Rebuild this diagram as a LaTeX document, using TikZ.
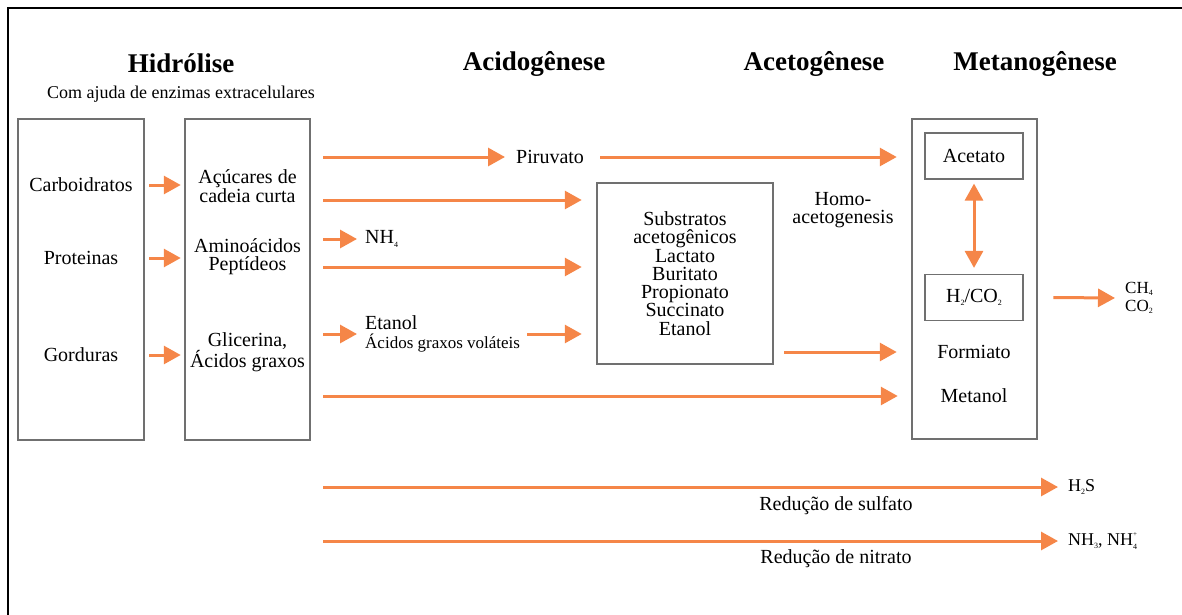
\documentclass[tikz,border=0pt]{standalone}
\usepackage{fontspec}
\setmainfont{Liberation Serif}
\usetikzlibrary{arrows.meta}
\usetikzlibrary{positioning}
\definecolor{flowcolor}{RGB}{245,134,72}
\definecolor{boxgray}{RGB}{112,112,112}
\newcommand{\diagfont}{\fontsize{20}{18.3}\selectfont}
\newcommand{\chemsub}[1]{\raisebox{-0.35ex}{\fontsize{8}{8}\selectfont #1}}
\newcommand{\chemion}[2]{\rlap{\raisebox{1.15ex}{\fontsize{7}{7}\selectfont #1}}\raisebox{-0.45ex}{\fontsize{8}{8}\selectfont #2}}
\tikzset{
    stage/.style={
           rectangle,
           draw=boxgray, line width=2.5pt,
           inner sep=0pt,
           align=center,
           font=\diagfont,
           },
    inner/.style={
           rectangle,
           draw=boxgray, line width=1.2pt,
           minimum width=98pt,
           minimum height=46pt,
           inner sep=0pt,
           font=\diagfont,
           },
    phase/.style={font=\fontsize{27}{27}\selectfont\bfseries, inner sep=0pt},
    txt/.style={align=center, inner sep=0pt, font=\diagfont},
    flow/.style={->, >={Triangle[length=17pt,width=18pt]}, draw=flowcolor, line width=3pt},
}

\begin{document}
\begin{tikzpicture}[x=1pt,y=-1pt]
 \useasboundingbox (0,0) rectangle (1182,615);
 \draw[line width=2pt] (8,615) -- (8,8) -- (1182,8);

 % phase titles
 \node[phase] (Hydrolysis) at (181,63) {Hidrólise};
 \node[txt, font=\fontsize{18}{18}\selectfont] (SubHydrolysis) at (181,94)
 {Com ajuda de enzimas extracelulares};
 \node[phase] (Acidogenesis) at (534,64) {Acidogênese};
 \node[phase,
  right of=Acidogenesis,
  node distance=280pt,
  anchor=center] (Acetogenesis)
 {Acetogênese};
 \node[phase,
  right of=Acetogenesis,
  node distance=221pt,
  anchor=center] (Methanogenesis)
 {Metanogênese};

 % hydrolysis boxes
 \node[stage, minimum width=126pt, minimum height=321pt] (Polymers) at (81,279.5) {};
 \node[stage, minimum width=125pt, minimum height=321pt] (Monomers) at (247.5,279.5) {};
 \node[txt] (Carb) at (81,185) {Carboidratos};
 \node[txt] (Prot) at (81,258) {Proteinas};
 \node[txt] (Fat) at (81,355) {Gorduras};
 \node[txt] (Sugar) at (247.5,186) {Açúcares de\\cadeia curta};
 \node[txt] (Amino) at (247.5,256.5) {Aminoácidos\\Peptídeos};
 \node[txt] (Glyc) at (247.5,352.5) {Glicerina,\\Ácidos graxos};
 \coordinate (out) at ([xshift=12pt]Monomers.east);

 % acidogenesis products
 \node[txt, anchor=west] (Pyruvate) at (516,157) {Piruvato};
 \node[txt, anchor=west] (Ammonium) at (365,239) {NH\chemsub{4}};
 \node[txt, anchor=west, align=left, font=\fontsize{20}{19}\selectfont] (Ethanol) at (365,334)
 {Etanol\\{\fontsize{17}{19}\selectfont Ácidos graxos voláteis}};

 % STAGE acetogenesis
 \node[stage, minimum width=176pt, minimum height=181pt] (Substrates) at (685,273.5)
 {Substratos\\acetogênicos\\Lactato\\Buritato\\Propionato\\Succinato\\Etanol};
 \node[txt] (Homo) at (843,210) {Homo-\\acetogenesis};

 % STAGE methanogenesis
 \node[stage, minimum width=125pt, minimum height=320pt] (Methano) at (974.5,279) {};
 \node[inner] (Acetate) at (974,156) {Acetato};
 \node[inner] (Hydrogen) at (974,297.5) {H\chemsub{2}/CO\chemsub{2}};
 \node[txt] (Formate) at (974,352) {Formiato};
 \node[txt] (Methanol) at (974,396) {Metanol};
 \node[txt, anchor=west, align=left, font=\fontsize{17}{18}\selectfont] (Biogas) at (1125,298)
 {CH\chemsub{4}\\CO\chemsub{2}};

 % reductions
 \node[txt, anchor=west, font=\fontsize{18}{18}\selectfont] (Sulfide) at (1068,487) {H\chemsub{2}S};
 \node[txt, anchor=west, font=\fontsize{18}{18}\selectfont] (Ammonia) at (1068,541)
 {NH\chemsub{3}, NH\chemion{+}{4}};
 \node[txt] (Sulfate) at (836,506) {Redução de sulfato};
 \node[txt] (Nitrate) at (836,559) {Redução de nitrato};

 % draw the flows between the stages
 \draw[flow] ([xshift=4pt]Polymers.east |- Carb) -- ([xshift=-3pt]Monomers.west |- Carb);
 \draw[flow] ([xshift=4pt]Polymers.east |- Prot) -- ([xshift=-3pt]Monomers.west |- Prot);
 \draw[flow] ([xshift=4pt]Polymers.east |- Fat) -- ([xshift=-3pt]Monomers.west |- Fat);

 \draw[flow] (out |- Pyruvate) -- ([xshift=-11pt]Pyruvate.west);
 \draw[flow] ([xshift=16pt]Pyruvate.east) -- ([xshift=-14pt]Methano.west |- Pyruvate);
 \draw[flow] (out |- 0,200) -- ([xshift=-14pt]Substrates.west |- 0,200);
 \draw[flow] (out |- 0,239) -- ([xshift=-8pt]Ammonium.west |- 0,239);
 \draw[flow] (out |- 0,267) -- ([xshift=-14pt]Substrates.west |- 0,267);
 \draw[flow] (out |- Ethanol.west) -- ([xshift=-8pt]Ethanol.west);
 \draw[flow] ([xshift=7pt]Ethanol.east) -- ([xshift=-14pt]Substrates.west |- Ethanol.east);
 \draw[flow] (out |- Methanol) -- ([xshift=-13pt]Methano.west |- Methanol);
 \draw[flow] ([xshift=10pt]Substrates.east |- Formate) -- ([xshift=-14pt]Methano.west |- Formate);
 \draw[flow, <->, shorten <=4pt, shorten >=6pt] (Acetate.south) -- (Hydrogen.north);
 \draw[flow] ([xshift=15pt]Methano.east |- Hydrogen) -- ([xshift=-10pt]Biogas.west);

 \draw[flow] (out |- 0,487) -- ([xshift=-10pt]Sulfide.west |- 0,487);
 \draw[flow] (out |- 0,541) -- ([xshift=-10pt]Ammonia.west |- 0,541);

\end{tikzpicture}
\end{document}
